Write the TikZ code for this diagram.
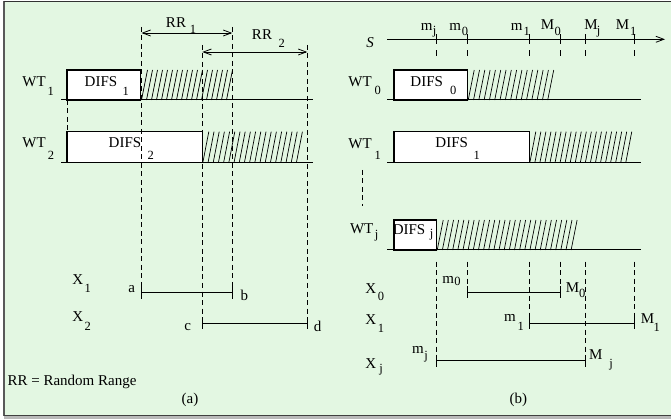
\documentclass[tikz,border=0pt]{standalone}
\usepackage{fontspec}
\setmainfont{Liberation Serif}
\usetikzlibrary{arrows.meta}
\definecolor{bgc}{RGB}{227,247,226}
\begin{document}
\begin{tikzpicture}[x=1pt,y=-1pt,
 lbl/.style={inner sep=0pt,font=\fontsize{15}{17}\selectfont},
 sb/.style={inner sep=0pt,font=\fontsize{12.5}{14}\selectfont},
 boxs/.style={draw,line width=1.1pt,fill=white},
 basel/.style={line width=1pt},
 dsh/.style={line width=0.75pt,dash pattern=on 5pt off 3.5pt},
 hat/.style={line width=0.7pt},
 ivl/.style={line width=1pt},
 tk/.style={line width=1pt},
 barb/.tip={Straight Barb[length=8pt,width=6pt]},
 arr/.style={line width=0.8pt,barb-barb}
]
\useasboundingbox (0,0) rectangle (671,419);
% frame and background
\fill[white] (0,0) rectangle (671,419);
\fill[gray!55] (4,415) rectangle (671,419);
\fill[bgc] (4,1) rectangle (671,415.5);
\draw[gray!70!black,line width=1.5pt] (4.2,1) -- (4.2,416);
\draw[black!80,line width=1.2pt] (4,1.3) -- (671,1.3);
\draw[black!75,line width=1.5pt] (4,415.6) -- (671,415.6);

% ================= (a) =================
% baselines
\draw[basel] (61,100) -- (313,100);
\draw[basel] (61,162.7) -- (313,162.7);
% boxes
\draw[boxs] (67,70) rectangle (140.7,100);
\draw[boxs] (67,131.7) rectangle (202.3,162.7);
% hatching
\foreach \x in {141.5,146.5,...,227} \draw[hat] (\x,100) -- ++(6,-30);
\foreach \x in {202.8,208,...,301} \draw[hat] (\x,162.7) -- ++(6,-31);
% interval end points
\coordinate (a) at (141.5,292.7);
\coordinate (b) at (232.3,292.7);
\coordinate (c) at (202.3,323.3);
\coordinate (d) at (307.3,323.3);
\coordinate (ta) at (141.5,27);
\coordinate (tb) at (232.3,27);
\coordinate (tc) at (202.3,45);
\coordinate (td) at (307.3,45);
\coordinate (w1) at (67,100);
\coordinate (w2) at (67,131.7);
% dashed verticals
\draw[dsh] (ta) -- (a);
\draw[dsh] (tb) -- (b);
\draw[dsh] (tc) -- (c);
\draw[dsh] (td) -- (d);
\draw[dsh] (w1) -- (w2);
% random range arrows
\coordinate (r1l) at (141.5,33);
\coordinate (r1r) at (232.3,33);
\coordinate (r2l) at (202.3,52);
\coordinate (r2r) at (307.3,52);
\draw[arr] (r1l) -- (r1r);
\draw[arr] (r2l) -- (r2r);
% intervals
\draw[ivl] (a) -- (b);
\draw[ivl] (c) -- (d);
\foreach \p in {a,b,c,d} \draw[tk] ([yshift=6pt]\p) -- ([yshift=-6pt]\p);
% labels
\node[lbl] (rr1) at (176,23) {RR};
\node[sb] (rr1s) at (193,29.5) {1};
\node[lbl] (rr2) at (262,35) {RR};
\node[sb] (rr2s) at (281.7,43) {2};
\node[lbl] (wt1) at (34,82) {WT};
\node[sb] (wt1s) at (50.7,91) {1};
\node[lbl] (wt2) at (34,143) {WT};
\node[sb] (wt2s) at (51,155) {2};
\node[lbl] (d1) at (101,82) {DIFS};
\node[sb] (d1s) at (125.7,91) {1};
\node[lbl] (d2) at (125,143) {DIFS};
\node[sb] (d2s) at (150.7,155) {2};
\node[lbl] (x1) at (77.7,280) {X};
\node[sb] (x1s) at (87.7,288.3) {1};
\node[lbl] (x2) at (77.7,316.7) {X};
\node[sb] (x2s) at (87.7,326.7) {2};
\node[lbl] (la) at (131.7,289.3) {a};
\node[lbl] (lb) at (244.3,295.7) {b};
\node[lbl] (lc) at (187.7,326.7) {c};
\node[lbl] (ld) at (317.7,326.7) {d};
\node[lbl] (rrtxt) at (72,381.7) {RR = Random Range};
\node[lbl] (capa) at (190,400) {(a)};

% ================= (b) =================
\coordinate (s0) at (387.3,39.3);
\coordinate (s1) at (665,39.3);
\draw[line width=0.8pt,-barb] (s0) -- (s1);
\node[lbl] (S) at (370,43) {\itshape S};
\foreach \x in {436.7,467.7,529.3,560,585,634} {
  \draw[tk] (\x,34.5) -- (\x,44.5);
  \draw[line width=0.75pt] (\x,50.5) -- (\x,56.5);
}
\node[lbl] (amj) at (426.7,26.7) {m};  \node[sb] (amjs) at (434.5,32) {j};
\node[lbl] (am0) at (455.3,26.7) {m};  \node[sb] (am0s) at (465,31) {0};
\node[lbl] (am1) at (516.7,26.7) {m};  \node[sb] (am1s) at (526.7,31) {1};
\node[lbl] (aM0) at (547.5,25) {M};    \node[sb] (aM0s) at (557.7,31) {0};
\node[lbl] (aMj) at (591,25) {M};      \node[sb] (aMjs) at (598.5,32) {j};
\node[lbl] (aM1) at (622.5,25) {M};    \node[sb] (aM1s) at (633.3,31) {1};
% baselines
\draw[basel] (387.3,100) -- (640.7,100);
\draw[basel] (387.3,162.7) -- (640.7,162.7);
\draw[basel] (387.3,250) -- (640.7,250);
% boxes
\draw[boxs] (394,70) rectangle (467.7,100);
\draw[boxs] (394,131.7) rectangle (529.3,162.7);
\draw[boxs] (394,220) rectangle (436.7,250);
% hatching
\foreach \x in {468.2,473.5,...,553} \draw[hat] (\x,100) -- ++(6,-30);
\foreach \x in {529.8,534.85,...,626} \draw[hat] (\x,162.7) -- ++(6,-31);
\foreach \x in {437.2,442.35,...,576} \draw[hat] (\x,250) -- ++(6,-30);
% vertical ellipsis
\coordinate (e0) at (362.3,170);
\coordinate (e1) at (362.3,206);
\draw[dsh] (e0) -- (e1);
% labels
\node[lbl] (rwt0) at (360,81.7) {WT};   \node[sb] (rwt0s) at (377.7,90) {0};
\node[lbl] (rwt1) at (360,143.3) {WT};  \node[sb] (rwt1s) at (377.7,155) {1};
\node[lbl] (rwtj) at (361.7,228.3) {WT};\node[sb] (rwtjs) at (376.7,236) {j};
\node[lbl] (rd0) at (426.7,82) {DIFS};  \node[sb] (rd0s) at (453.3,90) {0};
\node[lbl] (rd1) at (451.7,143) {DIFS}; \node[sb] (rd1s) at (476.7,155) {1};
\node[lbl] (rdj) at (409,229.3) {DIFS}; \node[sb] (rdjs) at (431.7,234.3) {j};
% intervals
\coordinate (p0) at (467.7,292.3);
\coordinate (q0) at (560,292.3);
\coordinate (p1) at (529.3,323.3);
\coordinate (q1) at (634,323.3);
\coordinate (pj) at (436.7,360.7);
\coordinate (qj) at (585,360.7);
\foreach \p in {p0,q0,p1,q1,pj,qj} {
  \draw[dsh] (\p |- 0,261.7) -- (\p);
  \draw[tk] ([yshift=6pt]\p) -- ([yshift=-6pt]\p);
}
\draw[ivl] (p0) -- (q0);
\draw[ivl] (p1) -- (q1);
\draw[ivl] (pj) -- (qj);
\node[lbl] (rx0) at (370.8,288.3) {X};  \node[sb] (rx0s) at (381,296.7) {0};
\node[lbl] (rx1) at (370.8,320) {X};    \node[sb] (rx1s) at (381,328.3) {1};
\node[lbl] (rxj) at (370.8,363.3) {X};  \node[sb] (rxjs) at (381,370) {j};
\node[lbl] (bm0) at (448.3,280) {m};    \node[sb] (bm0s) at (457.5,281.5) {0};
\node[lbl] (bM0) at (572.5,287.3) {M};  \node[sb] (bM0s) at (582.3,293.3) {0};
\node[lbl] (bm1) at (510,318.3) {m};    \node[sb] (bm1s) at (520.7,326.7) {1};
\node[lbl] (bM1) at (647.5,318.3) {M};  \node[sb] (bM1s) at (656.7,327.3) {1};
\node[lbl] (bmj) at (418,350) {m};      \node[sb] (bmjs) at (426,356.7) {j};
\node[lbl] (bMj) at (595.8,355) {M};    \node[sb] (bMjs) at (611,365) {j};
\node[lbl] (capb) at (518.3,400) {(b)};
\end{tikzpicture}
\end{document}
